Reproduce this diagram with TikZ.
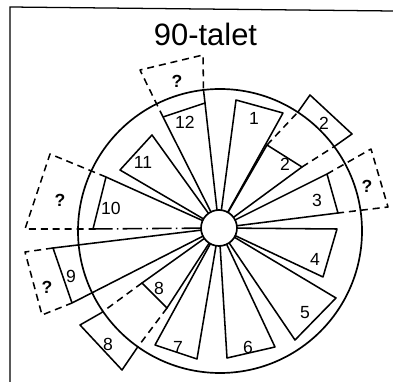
\documentclass[tikz,border=0pt]{standalone}
\usepackage{fontspec}
\setmainfont{Liberation Sans}
\usetikzlibrary{calc}
\tikzset{
  rim/.style={draw=black, line width=1.2pt},
  spk/.style={draw=black, line width=1.1pt, line join=round},
  ext/.style={spk, dash pattern=on 5pt off 3.5pt},
  chain/.style={spk, dash pattern=on 14pt off 3pt on 1pt off 3pt},
  frm/.style={draw=black, line width=0.9pt},
  num/.style={inner sep=0pt, font=\fontsize{12.5}{14}\selectfont},
  ttl/.style={inner sep=0pt, anchor=base, font=\fontsize{22}{26}\selectfont}
}
\newcommand{\hubr}{4.5mm}

\begin{document}
\begin{tikzpicture}[x=0.25mm, y=-0.25mm]
  \useasboundingbox (0,0) rectangle (393,382);
  \draw[frm] (10,382) -- (10,7) -- (393,11);
  \node[ttl] (title) at (205.5,46) {90-talet};

  % wheel and hub
  \coordinate (hub) at (219,228);
  \coordinate (mid) at (220,231);
  \draw[rim] (mid) circle[radius=35.5mm];
  \draw[rim] (hub) circle[radius=\hubr];

  % outer corners of the twelve spokes
  \coordinate (s1a) at (236,100);  \coordinate (s1b) at (283,113);
  \coordinate (s2a) at (267,145);  \coordinate (s2b) at (302,167);
  \coordinate (s3a) at (327,174);  \coordinate (s3b) at (338,213);
  \coordinate (s4a) at (337,229);  \coordinate (s4b) at (323,277);
  \coordinate (s5a) at (336,298);  \coordinate (s5b) at (295,340);
  \coordinate (s6a) at (275,347);  \coordinate (s6b) at (227,358);
  \coordinate (s7a) at (197,359);  \coordinate (s7b) at (155,345);
  \coordinate (s8a) at (167,308);  \coordinate (s8b) at (142,283);
  \coordinate (s9a) at (72,303);   \coordinate (s9b) at (53,248);
  \coordinate (s10a) at (93,229);  \coordinate (s10b) at (106,177);
  \coordinate (s11a) at (120,170); \coordinate (s11b) at (152,135);
  \coordinate (s12a) at (163,117); \coordinate (s12b) at (205,103);

  \foreach \i in {1,2,3,4,5,6,7,8,9,11,12}
    \draw[spk] ($(hub)!\hubr!(s\i a)$) -- (s\i a) -- (s\i b) -- ($(hub)!\hubr!(s\i b)$);
  \draw[spk] ($(hub)!\hubr!(s10b)$) -- (s10b) -- (s10a);
  \draw[chain] (s10a) -- ($(hub)!\hubr!(s10a)$);

  % boxes outside the rim
  \coordinate (c12) at (203.5,90);
  \draw[spk] (s12b) -- (c12);
  \draw[ext] (s12a) -- (140,70) coordinate (q12a) -- (203,55) coordinate (q12b) -- (c12);

  \draw[ext] (s3a) -- (371,149) coordinate (q3a) -- (388,207) coordinate (q3b) -- (s3b);
  \draw[ext] (s10b) -- (50,154) coordinate (q10a) -- (25,229) coordinate (q10b) -- (s10a);
  \draw[ext] (s9b) -- (25,252) coordinate (q9a) -- (42,315) coordinate (q9b) -- (s9a);

  \coordinate (c2a) at (298,112); \coordinate (c2b) at (335,146);
  \draw[ext] (s2a) -- (c2a);
  \draw[ext] (s2b) -- (c2b);
  \draw[spk] (c2a) -- (310,95) -- (352,134) -- (c2b);

  \coordinate (c8a) at (101,313); \coordinate (c8b) at (137,348);
  \draw[ext] (s8b) -- (c8a);
  \draw[ext] (s8a) -- (c8b);
  \draw[spk] (c8a) -- (80,325) -- (122,370) -- (c8b);

  % labels
  \foreach \t/\x/\y in {1/254/118, 2/285/164, 3/317/200, 4/315/259, 5/305/313,
      6/248/347, 7/178/347, 8/159/288, 9/71/276, 10/111/208, 11/143/162, 12/185/122}
    \node[num] (n\t) at (\x,\y) {\t};
  \foreach \t/\x/\y in {12/177/81, 3/367/186, 10/60/200, 9/47/287}
    \node[num, font=\fontsize{12.5}{14}\selectfont\bfseries] (q\t) at (\x,\y) {?};
  \node[num] (o2) at (324,123) {2};
  \node[num] (o8) at (108,344) {8};
\end{tikzpicture}
\end{document}
